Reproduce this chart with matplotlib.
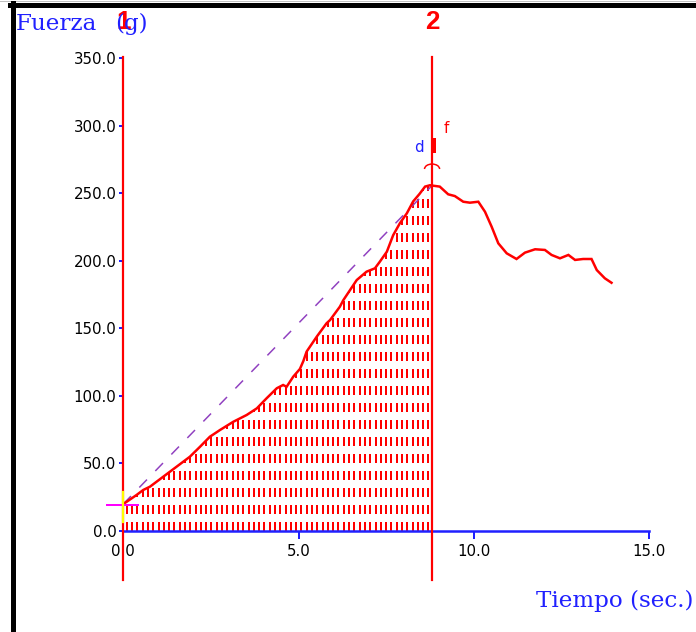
import numpy as np
import matplotlib
matplotlib.use('Agg')
import matplotlib.pyplot as plt
from matplotlib.lines import Line2D
from matplotlib.patches import Arc
from matplotlib.ticker import FormatStrFormatter

# registro de fuerza (g) contra tiempo (s)
tiempo = [0.00, 0.10, 0.38, 0.57, 0.76, 1.14, 1.33, 1.52, 1.90, 2.19,
          2.47, 2.76, 3.14, 3.52, 3.81, 4.09, 4.38, 4.56, 4.66, 4.85,
          5.04, 5.14, 5.23, 5.52, 5.80, 5.90, 6.18, 6.28, 6.47, 6.66,
          6.94, 7.18, 7.32, 7.42, 7.52, 7.70, 7.89, 8.09, 8.27, 8.45,
          8.61, 8.75, 9.03, 9.27, 9.46, 9.70, 9.89, 10.13, 10.32, 10.51,
          10.70, 10.94, 11.22, 11.46, 11.75, 12.03, 12.22, 12.46, 12.70, 12.89,
          13.12, 13.36, 13.51, 13.74, 13.93]
fuerza = [20.0, 21.7, 26.7, 30.4, 32.8, 40.2, 43.9, 47.6, 55.0, 62.4,
          69.8, 74.8, 80.9, 85.9, 90.8, 98.3, 105.7, 108.1, 106.8, 114.3,
          120.0, 126.0, 132.8, 143.9, 153.8, 156.2, 166.1, 171.0, 178.4, 185.8,
          192.0, 194.5, 199.4, 203.1, 206.8, 219.0, 227.8, 235.2, 244.0, 249.5,
          255.0, 256.0, 255.0, 249.3, 248.0, 243.8, 243.1, 243.8, 236.4, 225.3,
          213.0, 205.6, 201.4, 206.1, 208.6, 208.1, 204.4, 201.9, 204.4, 200.7,
          201.4, 201.4, 193.2, 187.1, 183.8]

marcas = [0.0, 8.81]
etiquetas_marcas = ['1', '2']
ticks_x = [0, 5, 10, 15]
ticks_y = [0, 50, 100, 150, 200, 250, 300, 350]

ROJO = '#ff0000'
AZUL = '#2020ff'
MORADO = '#9040c0'

plt.rcParams['lines.scale_dashes'] = False
W, H = 696, 632
fig = plt.figure(figsize=(W / 72, H / 72), dpi=72)

def px(x, y):
    # pixeles -> fraccion de figura
    return x / W, 1 - y / H

x0, y0 = px(123.3, 531)
x1, y1 = px(649, 58.3)
ax = fig.add_axes([x0, y0, x1 - x0, y1 - y0])
ax.set_xlim(0, 15)
ax.set_ylim(0, 350)
ax.patch.set_alpha(0)

for lado in ['top', 'right', 'left']:
    ax.spines[lado].set_visible(False)
ax.spines['bottom'].set_color(AZUL)
ax.spines['bottom'].set_linewidth(2.5)

ax.set_xticks(ticks_x)
ax.set_yticks(ticks_y)
ax.xaxis.set_major_formatter(FormatStrFormatter('%.1f'))
ax.yaxis.set_major_formatter(FormatStrFormatter('%.1f'))
ax.tick_params(axis='x', colors=AZUL, labelcolor='black', length=8, width=2,
               pad=5, labelsize=15)
ax.tick_params(axis='y', colors=AZUL, labelcolor='black', length=4, width=2,
               pad=3, labelsize=15)

t = np.array(tiempo)
f = np.array(fuerza)
t_fin = marcas[1]
f_pico = np.interp(t_fin, t, f)

# rayado vertical bajo la curva hasta la marca 2
xs = np.arange(0.1, t_fin - 0.05, 0.151)
ax.vlines(xs, 0, np.interp(xs, t, f), colors=ROJO, linewidth=2,
          linestyles=[(0, (9, 8))], zorder=2)

# recta desde el inicio hasta el pico
ax.plot([t[0], t_fin], [f[0], f_pico], color=MORADO, lw=1.5,
        dashes=(11, 12), zorder=3)

ax.plot(t, f, color=ROJO, lw=2.5, zorder=4, solid_joinstyle='miter')

# lineas de marca
for xm, et in zip(marcas, etiquetas_marcas):
    ax.axvline(xm, ymin=-0.104, ymax=1.003, color=ROJO, lw=2.2,
               clip_on=False, zorder=5)
    ax.text(xm, 1.077, et, transform=ax.get_xaxis_transform(),
            color=ROJO, fontsize=26, fontweight='bold',
            family='Liberation Sans', ha='center', va='center')

# cursor en el punto inicial
ax.plot([-0.47, 0.43], [f[0] - 0.7, f[0] - 0.7], color='#ff00ff', lw=2,
        clip_on=False, zorder=6)
ax.plot([0, 0], [7, 29], color='#ffff00', lw=2.2, clip_on=False, zorder=6)

# indicadores d / f sobre la marca 2
ax.plot([t_fin + 0.05, t_fin + 0.05], [280, 291], color=ROJO, lw=4,
        solid_capstyle='butt', zorder=6)
ax.add_patch(Arc((t_fin, 268), 0.43, 7.4, theta1=0, theta2=180,
                 color=ROJO, lw=1.5, zorder=6))
ax.text(t_fin - 0.37, 284, 'd', color=AZUL, fontsize=15, ha='center',
        va='center')
ax.text(t_fin + 0.40, 298, 'f', color=ROJO, fontsize=15, ha='center',
        va='center')

# titulos de los ejes
fig.text(*px(16, 24), 'Fuerza', color=AZUL, fontsize=23,
         family='DejaVu Serif', ha='left', va='center')
fig.text(*px(148, 24), '(g)', color=AZUL, fontsize=23,
         family='DejaVu Serif', ha='right', va='center', zorder=1)
fig.text(*px(694, 601), 'Tiempo (sec.)', color=AZUL, fontsize=23,
         family='DejaVu Serif', ha='right', va='center')

# marco de la ventana
fig.add_artist(Line2D([px(0, 0)[0], 1], [px(0, 0.5)[1]] * 2,
                      color='#c0c0c0', lw=1))
fig.add_artist(Line2D([px(10, 0)[0], 1], [px(0, 5)[1]] * 2,
                      color='black', lw=5))
fig.add_artist(Line2D([px(12.5, 0)[0]] * 2, [px(0, 3)[1], 0],
                      color='black', lw=5))

fig.savefig('out.png', dpi=72, facecolor='white')
